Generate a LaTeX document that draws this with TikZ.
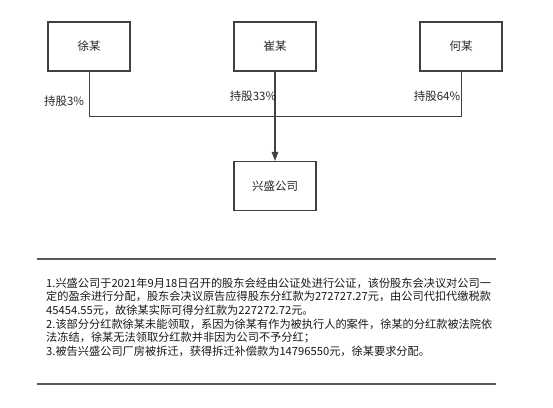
\documentclass[tikz,border=0pt]{standalone}
\usepackage{fontspec}
\setmainfont{Noto Sans CJK SC}
\usetikzlibrary{arrows.meta}

\begin{document}
\begin{tikzpicture}[
    x=1pt, y=-1pt,
    every node/.append style={font=\fontsize{11.5}{13.7}\selectfont, text=black!85},
    holder/.style={draw=black!75, line width=1.1pt, minimum width=82pt, minimum height=49pt, inner sep=0pt},
    share/.style={font=\fontsize{11.5}{13.7}\selectfont, inner sep=0pt},
    link/.style={draw=black!75, line width=0.9pt},
    rule/.style={draw=black!65, line width=1.4pt},
]
\useasboundingbox (0,0) rectangle (553,407);

% 股东
\node[holder] (xu)  at (89,46.5)  {徐某};
\node[holder] (cui) at (275,46.5) {崔某};
\node[holder] (he)  at (461,46.5) {何某};
\node[holder] (xs)  at (275,186)  {兴盛公司};

\coordinate (hub) at (275,116);

\draw[link] (xu.south) |- (hub);
\draw[link] (he.south) |- (hub);
\draw[link, line width=1.2pt, -{Triangle[width=6.5pt,length=9pt]}] (cui.south) -- (xs.north);

\node[share] (l1) at (64,101) {持股3\%};
\node[share] (l2) at (253,96) {持股33\%};
\node[share] (l3) at (437,96) {持股64\%};

% 说明
\draw[rule] (37,259) coordinate (r1) -- (496,259) coordinate (r2);
\draw[rule] (37,384) coordinate (r3) -- (496,384) coordinate (r4);
\node[anchor=base west, align=left, inner sep=0pt, text=black!90, font=\fontsize{11.2}{13.7}\selectfont] (note) at (46,355.5) {%
1.兴盛公司于2021年9月18日召开的股东会经由公证处进行公证，该份股东会决议对公司一\\
定的盈余进行分配，股东会决议原告应得股东分红款为272727.27元，由公司代扣代缴税款\\
45454.55元，故徐某实际可得分红款为227272.72元。\\
2.该部分分红款徐某未能领取，系因为徐某有作为被执行人的案件，徐某的分红款被法院依\\
法冻结，徐某无法领取分红款并非因为公司不予分红；\\
3.被告兴盛公司厂房被拆迁，获得拆迁补偿款为14796550元，徐某要求分配。};

\end{tikzpicture}
\end{document}
